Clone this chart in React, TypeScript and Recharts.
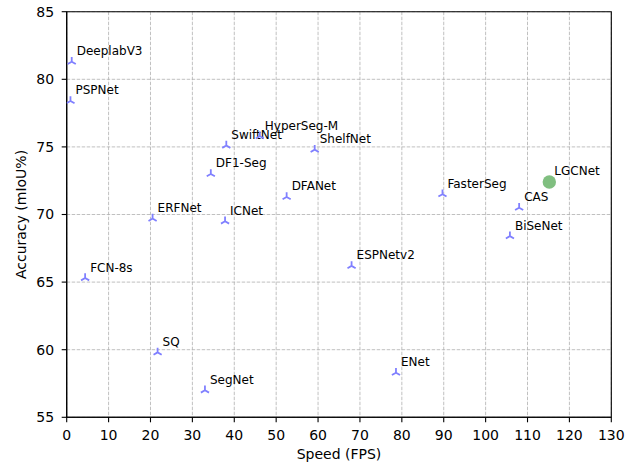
import React from 'react';
import { ScatterChart, Scatter, XAxis, YAxis, CartesianGrid, ReferenceArea, Label } from 'recharts';

const methods = ['DeeplabV3', 'PSPNet', 'FCN-8s', 'ERFNet', 'ICNet', 'SQ', 'SegNet', 'DF1-Seg', 'SwiftNet', 'HyperSeg-M', 'ShelfNet', 'DFANet', 'ESPNetv2', 'ENet', 'FasterSeg', 'BiSeNet', 'CAS'];
const speeds = [1.2, 0.9, 4.4, 20.5, 37.8, 21.7, 33.0, 34.4, 38.1, 46.1, 59.2, 52.5, 68.0, 78.6, 89.7, 105.8, 108.0];
const accuracies = [81.3, 78.4, 65.3, 69.7, 69.5, 59.8, 57.0, 73.0, 75.1, 75.8, 74.8, 71.3, 66.2, 58.3, 71.5, 68.4, 70.5];

const oursName = ['LGCNet'];
const oursSpeed = [115.2];
const oursAcc = [72.4];

const xTicks = [0, 10, 20, 30, 40, 50, 60, 70, 80, 90, 100, 110, 120, 130];
const yTicks = [55, 60, 65, 70, 75, 80, 85];

const others = methods.map((name, i) => ({ name, x: speeds[i], y: accuracies[i] }));
const ours = oursName.map((name, i) => ({ name, x: oursSpeed[i], y: oursAcc[i] }));

const FONT = 'DejaVu Sans, Liberation Sans, sans-serif';
const W = 642;
const H = 464;
const M = { top: 11.7, right: 30.7, bottom: 0, left: 0 };
const YW = 66.7;
const XH = 46.7;

const TriUp = (props: any) => {
  const { cx, cy, payload } = props;
  const r = 4.7;
  const s = r * Math.sin(Math.PI / 3);
  const c = r * 0.5;
  return (
    <g>
      <path
        d={`M${cx},${cy}L${cx},${cy - r}M${cx},${cy}L${cx - s},${cy + c}M${cx},${cy}L${cx + s},${cy + c}`}
        stroke="#8080ff"
        strokeWidth={1.8}
        fill="none"
      />
      <text x={cx + 5} y={cy - 6.5} fontSize={12} fontFamily={FONT} fill="#000">
        {payload.name}
      </text>
    </g>
  );
};

const Dot = (props: any) => {
  const { cx, cy, payload } = props;
  return (
    <g>
      <circle cx={cx} cy={cy} r={6.7} fill="#80bf80" />
      <text x={cx + 5} y={cy - 6.7} fontSize={12} fontFamily={FONT} fill="#000">
        {payload.name}
      </text>
    </g>
  );
};

const plotLeft = M.left + YW;
const plotTop = M.top;
const plotH = H - M.top - M.bottom - XH;
const plotW = W - M.left - M.right - YW;

export default function App() {
  return (
    <div style={{ position: 'absolute', left: 0, top: 0, width: W, height: H, background: '#fff' }}>
      <ScatterChart width={W} height={H} margin={M}>
        <CartesianGrid stroke="#b0b0b0" strokeDasharray="3.5 1.5" strokeWidth={0.8} />
        <XAxis
          type="number"
          dataKey="x"
          domain={[0, 130]}
          ticks={xTicks}
          interval={0}
          height={XH}
          tickSize={5}
          tickMargin={7.5}
          axisLine={{ stroke: '#000', strokeWidth: 1.1 }}
          tickLine={{ stroke: '#000', strokeWidth: 1.1 }}
          tick={{ fill: '#000', fontSize: 14, fontFamily: FONT }}
          allowDataOverflow
        >
          <Label
            content={() => (
              <text x={plotLeft + plotW / 2} y={459.3} textAnchor="middle" fontSize={14} fontFamily={FONT} fill="#000">
                Speed (FPS)
              </text>
            )}
          />
        </XAxis>
        <YAxis
          type="number"
          dataKey="y"
          domain={[55, 85]}
          ticks={yTicks}
          interval={0}
          width={YW}
          tickSize={5}
          tickMargin={7.5}
          axisLine={{ stroke: '#000', strokeWidth: 1.1 }}
          tickLine={{ stroke: '#000', strokeWidth: 1.1 }}
          tick={{ fill: '#000', fontSize: 14, fontFamily: FONT }}
          allowDataOverflow
        >
          <Label
            content={() => (
              <text
                x={25.7}
                y={plotTop + plotH / 2}
                transform={`rotate(-90, 25.7, ${plotTop + plotH / 2})`}
                textAnchor="middle"
                fontSize={14}
                fontFamily={FONT}
                fill="#000"
              >
                Accuracy (mIoU%)
              </text>
            )}
          />
        </YAxis>
        <ReferenceArea x1={0} x2={130} y1={55} y2={85} fill="none" fillOpacity={0} stroke="#000" strokeWidth={1.1} ifOverflow="visible" />
        <Scatter data={others} shape={TriUp} isAnimationActive={false} />
        <Scatter data={ours} shape={Dot} isAnimationActive={false} />
      </ScatterChart>
    </div>
  );
}
